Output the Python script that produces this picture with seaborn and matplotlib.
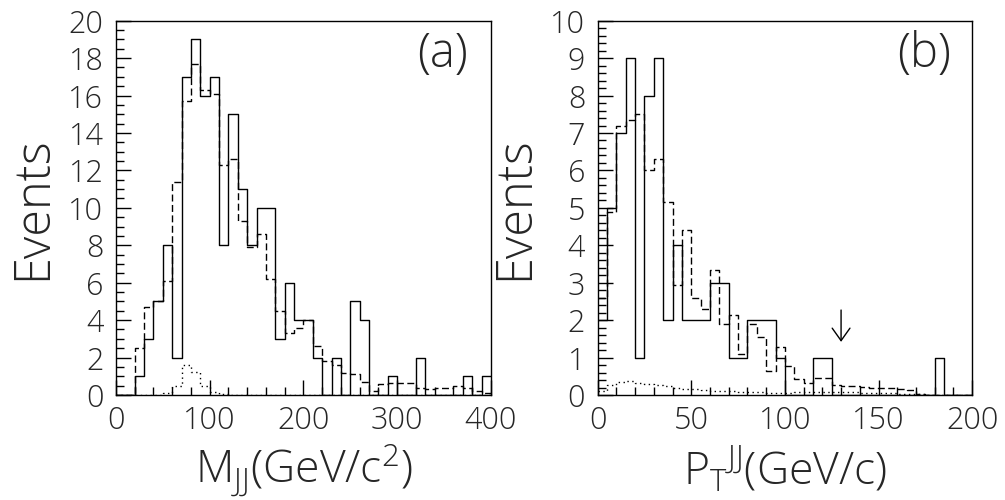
import numpy as np
import pandas as pd
import matplotlib
matplotlib.use('Agg')
import matplotlib.pyplot as plt
import matplotlib.font_manager as fm
from matplotlib.ticker import MultipleLocator
import seaborn as sns

# (a) dijet mass, 10 GeV bins
edges_a = np.arange(0, 401, 10)
solid_a = [0, 0, 1, 3, 5, 8, 2, 17, 19, 16,
           17, 8, 15, 11, 8, 10, 10, 3, 6, 4,
           4, 2, 0, 2, 0, 5, 4, 0, 0, 1,
           0, 0, 2, 0, 0, 0, 0, 1, 0, 1]
dashed_a = [0, 0, 2.5, 4.7, 5.0, 6.1, 11.4, 15.7, 17.7, 16.3,
            16.1, 12.3, 12.6, 9.3, 7.9, 8.6, 6.2, 4.5, 3.3, 3.6,
            4.0, 2.6, 1.8, 1.6, 1.2, 1.1, 0.7, 0.2, 0.6, 0.66,
            0.66, 0.66, 0.4, 0.3, 0.35, 0.4, 0.5, 0.4, 0.2, 0.1]
dotted_a = [0, 0, 0, 0, 0, 0.1, 0.5, 1.6, 1.25, 0.5,
            0.15, 0.05, 0, 0, 0, 0, 0, 0, 0, 0,
            0, 0, 0, 0, 0, 0, 0, 0, 0, 0,
            0, 0, 0, 0, 0, 0, 0, 0, 0, 0]

# (b) dijet pt, 5 GeV bins
edges_b = np.arange(0, 201, 5)
solid_b = [2, 5, 7, 9, 1, 8, 9, 2, 4, 2,
           2, 2, 3, 3, 1, 1, 2, 2, 2, 1,
           0, 0, 0, 1, 1, 0, 0, 0, 0, 0,
           0, 0, 0, 0, 0, 0, 1, 0, 0, 0]
dashed_b = [2.6, 4.9, 7.2, 7.35, 7.5, 6.0, 6.3, 5.15, 2.95, 4.4,
            2.6, 2.3, 3.35, 1.9, 2.15, 1.1, 1.9, 1.55, 0.65, 1.27,
            0.78, 0.42, 0.31, 0.46, 0.46, 0.27, 0.24, 0.24, 0.22, 0.18,
            0.2, 0.18, 0.16, 0.13, 0.04, 0, 0, 0, 0, 0]
dotted_b = [0.12, 0.27, 0.36, 0.37, 0.33, 0.29, 0.27, 0.24, 0.2, 0.17,
            0.15, 0.13, 0.12, 0.11, 0.1, 0.09, 0.08, 0.07, 0.06, 0.05,
            0.06, 0.07, 0.08, 0.09, 0.08, 0.08, 0.07, 0.07, 0.06, 0.06,
            0.05, 0.05, 0.04, 0.04, 0.02, 0, 0, 0, 0, 0]

sns.set_theme(style='white')


def light_family():
    for fam in ['Open Sans', 'Lato', 'Roboto', 'Inter', 'Noto Sans']:
        for f in fm.fontManager.ttflist:
            w = f.weight
            if isinstance(w, str):
                w = fm.weight_dict.get(w, 400)
            if f.name == fam and w <= 300:
                return fam
    return 'DejaVu Sans'


fam = light_family()
plt.rcParams['font.family'] = [fam, 'DejaVu Sans']
plt.rcParams['font.weight'] = 'light'
plt.rcParams['axes.labelweight'] = 'light'
plt.rcParams['axes.linewidth'] = 1.0
plt.rcParams['axes.edgecolor'] = 'black'


def draw(ax, edges, solid, dashed, dotted):
    width = float(edges[1] - edges[0])
    centers = (edges[:-1] + edges[1:]) / 2
    df = pd.DataFrame({'x': centers, 'solid': solid, 'dashed': dashed, 'dotted': dotted})
    styles = [('dotted', (0, (1, 2.5))), ('dashed', (0, (5, 2.5))), ('solid', '-')]
    for col, ls in styles:
        sns.histplot(data=df, x='x', weights=col, binwidth=width,
                     binrange=(float(edges[0]), float(edges[-1])), element='step',
                     fill=False, color='black', linewidth=1.0, linestyle=ls, ax=ax)


fig = plt.figure(figsize=(10.05, 5.0), dpi=100)
ax_a = fig.add_axes([0.1154, 0.21, 0.3731, 0.7486])
ax_b = fig.add_axes([0.5947, 0.21, 0.3726, 0.7486])

draw(ax_a, edges_a, solid_a, dashed_a, dotted_a)
draw(ax_b, edges_b, solid_b, dashed_b, dotted_b)

ax_a.set_xlim(0, 400)
ax_a.set_ylim(0, 20)
ax_a.xaxis.set_major_locator(MultipleLocator(100))
ax_a.xaxis.set_minor_locator(MultipleLocator(20))
ax_a.yaxis.set_major_locator(MultipleLocator(2))
ax_a.yaxis.set_minor_locator(MultipleLocator(0.5))

ax_b.set_xlim(0, 200)
ax_b.set_ylim(0, 10)
ax_b.xaxis.set_major_locator(MultipleLocator(50))
ax_b.xaxis.set_minor_locator(MultipleLocator(10))
ax_b.yaxis.set_major_locator(MultipleLocator(1))
ax_b.yaxis.set_minor_locator(MultipleLocator(0.2))

ax_a.set_xlabel(r'M$_{\mathdefault{JJ}}$(GeV/c$^{\mathdefault{2}}$)', fontsize=32)
ax_b.set_xlabel(r'P$_{\mathdefault{T}}$$^{\mathdefault{JJ}}$(GeV/c)', fontsize=32)

for ax, tag in [(ax_a, '(a)'), (ax_b, '(b)')]:
    for s in ax.spines.values():
        s.set_visible(True)
        s.set_color('black')
        s.set_linewidth(1.0)
    ax.tick_params(which='both', direction='in', top=False, right=False,
                   bottom=True, left=True, color='black', width=1.0)
    ax.tick_params(which='major', length=11, labelsize=22, pad=7)
    ax.tick_params(axis='y', which='major', pad=9)
    ax.tick_params(which='minor', length=5.5)
    ax.set_ylabel('Events', fontsize=35, va='baseline')
    ax.yaxis.set_label_coords(-0.187, 0.5)
    ax.xaxis.label.set_va('baseline')
    ax.xaxis.set_label_coords(0.5, -0.24)
    ax.text(0.872, 0.908, tag, transform=ax.transAxes, ha='center', va='center',
            fontsize=34)
    ax.grid(False)

# cut position in (b)
ax_b.annotate('', xy=(130, 1.42), xytext=(130, 2.27),
              arrowprops=dict(arrowstyle='->,head_length=0.45,head_width=0.32',
                              lw=1.0, color='black', mutation_scale=20,
                              shrinkA=0, shrinkB=0))

fig.savefig('out.png', dpi=100, facecolor='white')
